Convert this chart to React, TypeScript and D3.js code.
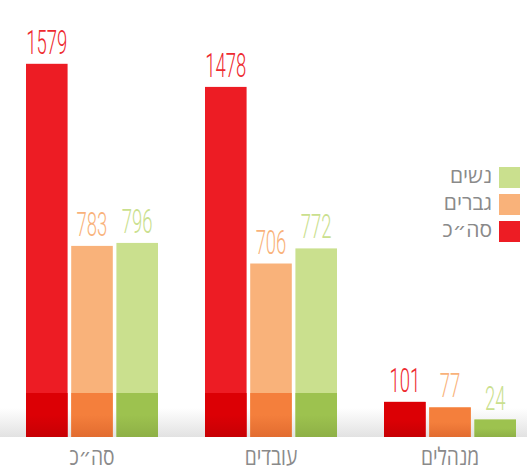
import React from "react";
import * as d3 from "d3";

const categories = ["סה״כ", "עובדים", "מנהלים"];
const seriesKeys = ["total", "men", "women"];
const seriesNames = ["סה״כ", "גברים", "נשים"];
const totalValues = [1579, 1478, 101];
const menValues = [783, 706, 77];
const womenValues = [796, 772, 24];

const lightColors = ["#ED1C24", "#F9B27A", "#CAE08E"];
const darkTop = ["#DC0005", "#F47F3C", "#9DC24F"];
const darkBottom = ["#C70004", "#E26C30", "#8EB046"];

const W = 527;
const H = 471;
const baseline = 437;
const bandTop = 393;

export default function App() {
  const x0 = d3
    .scaleBand<string>()
    .domain(categories)
    .range([26, 516])
    .paddingInner(0.2626)
    .paddingOuter(0);
  const x1 = d3
    .scaleBand<string>()
    .domain(seriesKeys)
    .range([0, x0.bandwidth()])
    .paddingInner(0.08);
  const y = d3.scaleLinear().domain([0, 1600]).range([baseline - 12, baseline - 12 - 366]);

  const seriesValues = [totalValues, menValues, womenValues];

  const legendOrder = [2, 1, 0];

  return (
    <svg
      width={W}
      height={H}
      style={{ position: "absolute", left: 0, top: 0, background: "#fff" }}
    >
      <defs>
        <linearGradient id="floor" x1="0" y1="0" x2="0" y2="1">
          <stop offset="0" stopColor="#ffffff" />
          <stop offset="1" stopColor="#e2e2e2" />
        </linearGradient>
        {seriesKeys.map((k, i) => (
          <linearGradient key={k} id={`dark-${k}`} x1="0" y1="0" x2="0" y2="1">
            <stop offset="0" stopColor={darkTop[i]} />
            <stop offset="0.5" stopColor={darkTop[i]} />
            <stop offset="1" stopColor={darkBottom[i]} />
          </linearGradient>
        ))}
      </defs>
      <rect x={0} y={408} width={W} height={baseline - 408} fill="url(#floor)" />
      {categories.map((c, ci) => (
        <g key={c} transform={`translate(${x0(c)},0)`}>
          {seriesKeys.map((k, si) => {
            const v = seriesValues[si][ci];
            const top = y(v);
            const bx = x1(k)!;
            const bw = x1.bandwidth();
            const darkStart = Math.max(top, bandTop);
            return (
              <g key={k}>
                <rect x={bx} y={top} width={bw} height={baseline - top} fill={lightColors[si]} />
                <rect
                  x={bx}
                  y={darkStart}
                  width={bw}
                  height={baseline - darkStart}
                  fill={`url(#dark-${k})`}
                />
                <text
                  transform={`translate(${bx + bw / 2},${top - 10}) scale(0.56,1)`}
                  textAnchor="middle"
                  fontFamily="Roboto, 'DejaVu Sans', sans-serif"
                  fontWeight={300}
                  fontSize={33}
                  fill={si === 0 ? "#EE2A2F" : lightColors[si]}
                >
                  {v}
                </text>
              </g>
            );
          })}
          <text
            transform={`translate(${x0.bandwidth() / 2},${465}) scale(0.8,1)`}
            textAnchor="middle"
            fontFamily="'Open Sans', 'DejaVu Sans', sans-serif"
            fontSize={24}
            fill="#8a8a8a"
          >
            {c}
          </text>
        </g>
      ))}
      {legendOrder.map((si, i) => (
        <g key={si} transform={`translate(499,${167 + i * 27})`}>
          <rect x={0} y={0} width={21} height={21} fill={lightColors[si]} />
          <text
            x={-7}
            y={16}
            textAnchor="end"
            fontFamily="'Open Sans', 'DejaVu Sans', sans-serif"
            fontSize={21}
            fill="#8a8a8a"
          >
            {seriesNames[si]}
          </text>
        </g>
      ))}
    </svg>
  );
}
